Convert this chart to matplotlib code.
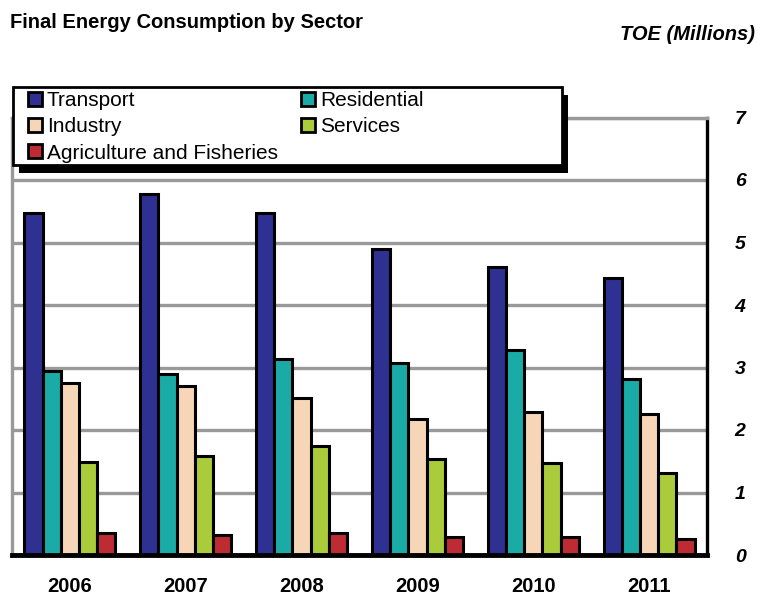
import numpy as np
import matplotlib.pyplot as plt
from matplotlib.patches import Rectangle

# %% data (TOE, millions)
years = ['2006', '2007', '2008', '2009', '2010', '2011']
sectors = ['Transport', 'Residential', 'Industry', 'Services', 'Agriculture and Fisheries']
transport = [5.47, 5.78, 5.47, 4.90, 4.61, 4.43]
residential = [2.94, 2.90, 3.13, 3.07, 3.28, 2.82]
industry = [2.75, 2.70, 2.51, 2.17, 2.29, 2.26]
services = [1.49, 1.58, 1.74, 1.53, 1.47, 1.31]
agriculture = [0.35, 0.32, 0.35, 0.29, 0.29, 0.26]
colors = ['#2E3192', '#1AABA7', '#F7D6B8', '#AACB3A', '#BE2B33']

plt.rcParams['font.family'] = ['Liberation Sans', 'DejaVu Sans']

W, H = 758, 598

# %% figure
fig = plt.figure(figsize=(W / 100, H / 100), dpi=100)
ax = fig.add_axes([12 / W, 1 - 555 / H, 695 / W, 437.5 / H])

x = np.arange(len(years))
w = 0.157
series = [transport, residential, industry, services, agriculture]
bars = []
for j, vals in enumerate(series):
    b = ax.bar(x + (j - 2) * w, vals, width=w, color=colors[j],
               edgecolor='black', linewidth=2.2, zorder=3, label=sectors[j])
    bars.append(b)

ax.set_xlim(-0.5, len(years) - 0.5)
ax.set_ylim(0, 7)
ax.set_yticks(range(0, 8))
ax.yaxis.tick_right()
ax.tick_params(axis='y', length=0, pad=20)
ax.tick_params(axis='x', length=0, pad=16)
ax.set_xticks(x)
ax.set_xticklabels(years, fontsize=14.5, fontweight='bold')
for t in ax.get_yticklabels():
    t.set_fontsize(14)
    t.set_fontweight('bold')
    t.set_fontstyle('italic')

ax.grid(axis='y', color='#999999', linewidth=2.4, zorder=0)
ax.set_axisbelow(True)
ax.spines['left'].set_color('#999999')
ax.spines['left'].set_linewidth(2.4)
ax.spines['top'].set_color('#999999')
ax.spines['top'].set_linewidth(2.4)
ax.spines['right'].set_color('black')
ax.spines['right'].set_linewidth(2.4)
ax.spines['bottom'].set_color('black')
ax.spines['bottom'].set_linewidth(3.5)
ax.spines['bottom'].set_zorder(4)

# %% legend box with black drop shadow (drawn by hand, it is wider than the entries)
bx0, by0, bx1, by1 = 13, 87, 562, 165
fig.patches.append(Rectangle(((bx0 + 6) / W, 1 - (by1 + 8) / H), (bx1 - bx0) / W,
                             (by1 - by0) / H, transform=fig.transFigure,
                             facecolor='black', edgecolor='none', zorder=8))
fig.patches.append(Rectangle((bx0 / W, 1 - by1 / H), (bx1 - bx0) / W,
                             (by1 - by0) / H, transform=fig.transFigure,
                             facecolor='white', edgecolor='black', linewidth=2.0,
                             zorder=9))

# row order: Transport, Residential / Industry, Services / Agriculture
order = [0, 2, 4, 1, 3]
leg = fig.legend([bars[i] for i in order], [sectors[i] for i in order],
                 ncol=2, loc='upper left', bbox_to_anchor=(28 / W, 1 - 91 / H),
                 frameon=False, borderpad=0, labelspacing=0.35,
                 handlelength=0.68, handleheight=0.68, handletextpad=0.22,
                 columnspacing=1.12, borderaxespad=0,
                 prop={'size': 15})
leg.set_zorder(10)
for h in leg.legend_handles:
    h.set_linewidth(2.0)

fig.text(10 / W, 1 - 23 / H, 'Final Energy Consumption by Sector', fontsize=14.5,
         fontweight='bold', ha='left', va='center')
fig.text(755 / W, 1 - 35 / H, 'TOE (Millions)', fontsize=14.5, fontweight='bold',
         fontstyle='italic', ha='right', va='center')

plt.savefig('out.png', dpi=100)
